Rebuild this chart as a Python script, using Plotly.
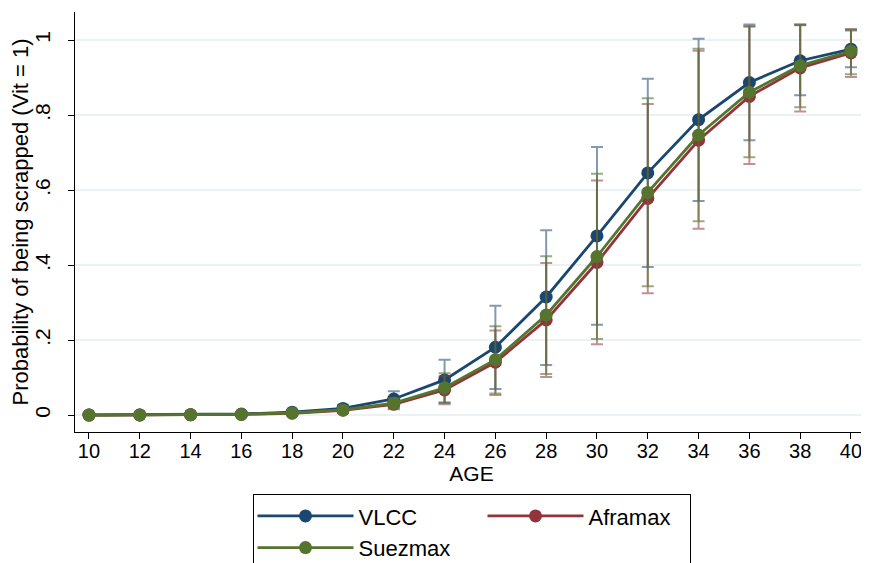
import plotly.graph_objects as go

ages = [10, 12, 14, 16, 18, 20, 22, 24, 26, 28, 30, 32, 34, 36, 38, 40]

vlcc = [0.0003, 0.0006, 0.0013, 0.003, 0.008, 0.018, 0.043, 0.094, 0.181, 0.315,
        0.478, 0.646, 0.788, 0.887, 0.945, 0.976]
vlcc_lo = [0.0001, 0.0002, 0.0005, 0.001, 0.003, 0.008, 0.022, 0.033, 0.070, 0.134,
           0.241, 0.395, 0.571, 0.733, 0.853, 0.928]
vlcc_hi = [0.0005, 0.001, 0.0021, 0.005, 0.013, 0.028, 0.064, 0.148, 0.292, 0.493,
           0.715, 0.897, 1.004, 1.042, 1.040, 1.026]

aframax = [0.0002, 0.0004, 0.0009, 0.002, 0.005, 0.013, 0.029, 0.067, 0.141, 0.254,
           0.407, 0.578, 0.733, 0.850, 0.926, 0.966]
aframax_lo = [0.0001, 0.0001, 0.0003, 0.001, 0.002, 0.006, 0.016, 0.029, 0.054, 0.102,
              0.189, 0.325, 0.497, 0.670, 0.810, 0.902]
aframax_hi = [0.0003, 0.0007, 0.0015, 0.003, 0.008, 0.020, 0.043, 0.104, 0.226, 0.406,
              0.626, 0.830, 0.972, 1.036, 1.042, 1.030]

suezmax = [0.0002, 0.0004, 0.001, 0.002, 0.006, 0.014, 0.032, 0.073, 0.148, 0.267,
           0.423, 0.594, 0.747, 0.861, 0.932, 0.971]
suezmax_lo = [0.0001, 0.0001, 0.0004, 0.001, 0.002, 0.007, 0.018, 0.034, 0.058, 0.110,
              0.203, 0.344, 0.517, 0.688, 0.821, 0.909]
suezmax_hi = [0.0003, 0.0007, 0.0016, 0.003, 0.010, 0.021, 0.046, 0.112, 0.237, 0.424,
              0.644, 0.845, 0.977, 1.038, 1.042, 1.028]

y_ticks = [0, 0.2, 0.4, 0.6, 0.8, 1]
y_ticktext = ["0", ".2", ".4", ".6", ".8", "1"]
x_ticks = list(range(10, 41, 2))

series = [
    ("VLCC", vlcc, vlcc_lo, vlcc_hi, "#1a476f", "rgba(26,71,111,0.55)", "a", None),
    ("Aframax", aframax, aframax_lo, aframax_hi, "#90353b", "rgba(144,53,59,0.55)", "b", 96),
    ("Suezmax", suezmax, suezmax_lo, suezmax_hi, "#55752f", "rgba(85,117,47,0.6)", "a", None),
]

fig = go.Figure()
for name, y, lo, hi, col, ecol, grp, lw in series:
    kw = {}
    if lw is not None:
        kw["legendwidth"] = lw
    fig.add_trace(go.Scatter(
        x=ages, y=y, name=name, mode="lines+markers",
        line=dict(color=col, width=2.8),
        marker=dict(color=col, size=13),
        error_y=dict(type="data", symmetric=False,
                     array=[h - v for h, v in zip(hi, y)],
                     arrayminus=[v - l for v, l in zip(y, lo)],
                     color=ecol, thickness=2, width=6),
        legendgroup=grp, **kw,
    ))

font = "Liberation Sans, Arial, sans-serif"
fig.update_layout(
    width=861, height=555,
    margin=dict(l=67, r=1, t=4, b=131, autoexpand=False),
    paper_bgcolor="white", plot_bgcolor="white",
    font=dict(family=font, color="black"),
    showlegend=True,
    legend=dict(orientation="h", traceorder="grouped",
                x=0.5, xanchor="center", y=-0.148, yanchor="top",
                bordercolor="black", borderwidth=1, bgcolor="white",
                font=dict(size=22, family=font, color="black"),
                itemwidth=96, entrywidth=119, tracegroupgap=0),
    xaxis=dict(range=[9.45, 40.67], tickvals=x_ticks, showgrid=False, zeroline=False,
               showline=True, linecolor="black", linewidth=1,
               ticks="outside", ticklen=6, tickcolor="black",
               tickfont=dict(size=20), ticklabelstandoff=-5,
               title=dict(text="AGE", font=dict(size=21), standoff=0)),
    yaxis=dict(range=[-0.045, 1.075], tickvals=y_ticks, ticktext=y_ticktext,
               tickangle=-90, showgrid=True, gridcolor="#eaf2f3", gridwidth=1.5,
               zeroline=False, showline=True, linecolor="black", linewidth=1,
               ticks="outside", ticklen=6, tickcolor="black",
               tickfont=dict(size=21), ticklabelstandoff=10,
               title=dict(text="Probability of being scrapped (Vit = 1)",
                          font=dict(size=22), standoff=0)),
)

fig.write_html("out.html")
